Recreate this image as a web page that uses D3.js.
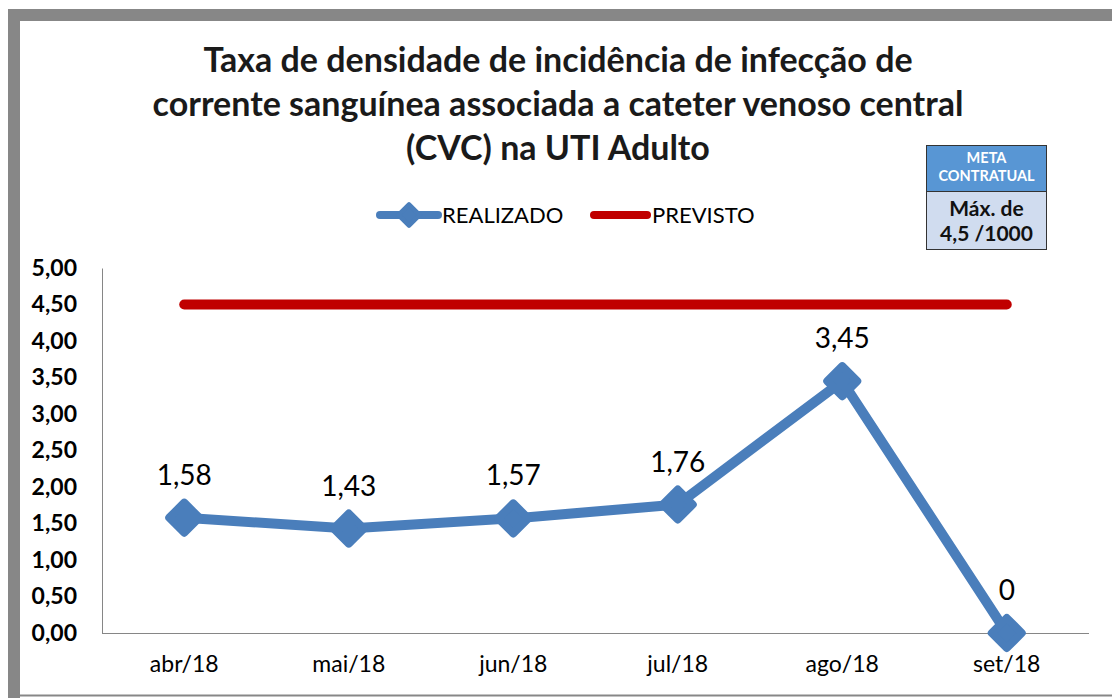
<!DOCTYPE html>
<html><head><meta charset="utf-8">
<script src="https://cdn.jsdelivr.net/npm/d3@7"></script>
<style>body{margin:0;background:#fff}svg{display:block}</style>
</head><body>
<svg id="c" width="1112" height="698"></svg>
<script>
const categories = ["abr/18","mai/18","jun/18","jul/18","ago/18","set/18"];
const realizado = [1.58,1.43,1.57,1.76,3.45,0];
const realizadoLabels = ["1,58","1,43","1,57","1,76","3,45","0"];
const previsto = [4.5,4.5,4.5,4.5,4.5,4.5];
const yTicks = [0,0.5,1,1.5,2,2.5,3,3.5,4,4.5,5];
const titleLines = ["Taxa de densidade de incidência de infecção de","corrente sanguínea associada a cateter venoso central","(CVC) na UTI Adulto"];
const seriesNames = ["REALIZADO","PREVISTO"];
const metaHeader = ["META","CONTRATUAL"];
const metaBody = ["Máx. de","4,5 /1000"];

const FONT = "Lato, 'Open Sans', sans-serif";
const BLUE = "#4a7ebb", RED = "#c00000", AXIS = "#868686";
const svg = d3.select("#c");

// frame
svg.append("rect").attr("x",8).attr("y",9).attr("width",1112).attr("height",12).attr("fill","#878787");
svg.append("rect").attr("x",8).attr("y",9).attr("width",12).attr("height",700).attr("fill","#878787");
svg.append("line").attr("x1",20).attr("x2",1112).attr("y1",695.5).attr("y2",695.5).attr("stroke","#878787").attr("stroke-width",2);

const m = {l:102, r:1089, t:268, b:633};
const x = d3.scaleBand().domain(categories).range([m.l,m.r]);
const y = d3.scaleLinear().domain([0,5]).range([m.b,m.t]);
const cx = d => x(d)+x.bandwidth()/2;

// title
const title = svg.append("text").attr("text-anchor","middle").attr("font-family",FONT).attr("font-weight","bold").attr("font-size",34).attr("fill","#1a1a1a");
titleLines.forEach((t,i)=>title.append("tspan").attr("x",558).attr("y",72+i*44).text(t));

// axes
const yAxis = svg.append("g").attr("transform",`translate(${m.l},0)`).call(d3.axisLeft(y).tickValues(yTicks).tickSize(0).tickPadding(25).tickFormat(d=>d3.format(".2f")(d).replace(".",",")));
yAxis.select(".domain").attr("stroke",AXIS);
yAxis.selectAll("text").attr("font-family",FONT).attr("font-weight","bold").attr("font-size",23).attr("fill","#000");
const xAxis = svg.append("g").attr("transform",`translate(0,${m.b})`).call(d3.axisBottom(x).tickSize(0).tickPadding(23));
xAxis.select(".domain").attr("stroke",AXIS).attr("d",`M${m.l},0.5H${m.r}`);
xAxis.selectAll("text").attr("font-family",FONT).attr("font-size",23).attr("fill","#000");

// previsto line
const line = d3.line().x((d,i)=>cx(categories[i])).y(d=>y(d));
svg.append("path").datum(previsto).attr("d",line).attr("fill","none").attr("stroke",RED).attr("stroke-width",10).attr("stroke-linecap","round");

// realizado
svg.append("path").datum(realizado).attr("d",line).attr("fill","none").attr("stroke",BLUE).attr("stroke-width",10).attr("stroke-linejoin","round");
const diamond = "M0,-15L15,0L0,15L-15,0Z";
svg.selectAll(".mk").data(realizado).join("path").attr("class","mk")
  .attr("transform",(d,i)=>`translate(${cx(categories[i])},${y(d)})`)
  .attr("d",diamond).attr("fill",BLUE).attr("stroke",BLUE).attr("stroke-width",8).attr("stroke-linejoin","round");
svg.selectAll(".lb").data(realizado).join("text").attr("class","lb")
  .attr("x",(d,i)=>cx(categories[i])).attr("y",d=>y(d)-33)
  .attr("text-anchor","middle").attr("font-family",FONT).attr("font-size",28).attr("fill","#000")
  .text((d,i)=>realizadoLabels[i]);

// legend
const lg = svg.append("g").attr("font-family",FONT).attr("font-size",22);
lg.append("line").attr("x1",380).attr("x2",438).attr("y1",215).attr("y2",215).attr("stroke",BLUE).attr("stroke-width",8).attr("stroke-linecap","round");
lg.append("path").attr("d",diamond).attr("transform","translate(409,215) scale(0.72)").attr("fill",BLUE).attr("stroke",BLUE).attr("stroke-width",6).attr("stroke-linejoin","round");
lg.append("text").attr("x",442).attr("y",223).text(seriesNames[0]);
lg.append("line").attr("x1",594).attr("x2",647).attr("y1",215).attr("y2",215).attr("stroke",RED).attr("stroke-width",8).attr("stroke-linecap","round");
lg.append("text").attr("x",652).attr("y",223).text(seriesNames[1]);

// meta box
const mb = svg.append("g");
mb.append("rect").attr("x",926.5).attr("y",145.5).attr("width",120).attr("height",46).attr("fill","#5896d4").attr("stroke","#333").attr("stroke-width",1);
mb.append("rect").attr("x",926.5).attr("y",191.5).attr("width",120).attr("height",58).attr("fill","#d0dcef").attr("stroke","#333").attr("stroke-width",1);
metaHeader.forEach((t,i)=>mb.append("text").attr("x",986.5).attr("y",163+i*18).attr("text-anchor","middle").attr("font-family",FONT).attr("font-weight","bold").attr("font-size",14.5).attr("fill","#fff").text(t));
metaBody.forEach((t,i)=>mb.append("text").attr("x",986.5).attr("y",216+i*25).attr("text-anchor","middle").attr("font-family",FONT).attr("font-weight","bold").attr("font-size",21).attr("fill","#111").text(t));
</script>
</body></html>
